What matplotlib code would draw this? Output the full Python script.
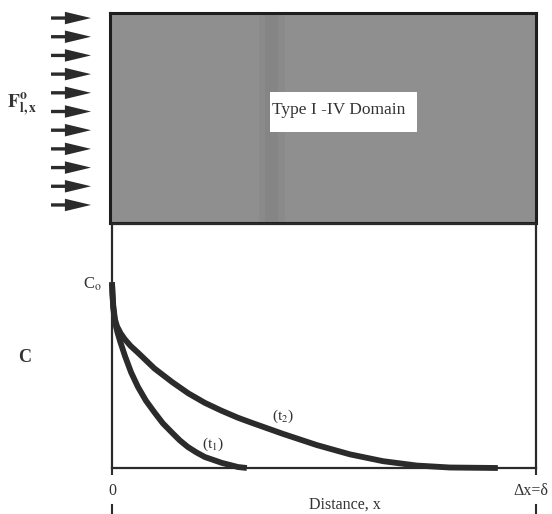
import numpy as np
import matplotlib
matplotlib.use('Agg')
import matplotlib.pyplot as plt
from matplotlib.transforms import ScaledTranslation

plt.rcParams['font.family'] = 'serif'
plt.rcParams['font.serif'] = ['Liberation Serif', 'DejaVu Serif']
plt.rcParams['mathtext.fontset'] = 'stix'

# --- DATA ---
# concentration profiles, x as fraction of delta, C on axis scale (top = 1)
t1_x = [0, 0.001, 0.003, 0.007, 0.013, 0.019, 0.031, 0.045, 0.061, 0.080, 0.101, 0.120, 0.142,
        0.160, 0.179, 0.199, 0.219, 0.259, 0.297, 0.318]
t1_c = [0.761, 0.715, 0.655, 0.597, 0.555, 0.520, 0.457, 0.392, 0.333, 0.276, 0.226, 0.183, 0.144,
        0.113, 0.086, 0.064, 0.045, 0.021, 0.004, 0.0]

t2_x = [0, 0.001, 0.003, 0.007, 0.012, 0.020, 0.030, 0.044, 0.061, 0.100, 0.142, 0.180, 0.219, 0.258,
        0.297, 0.330, 0.403, 0.483, 0.561, 0.639, 0.719, 0.797, 0.910]
t2_c = [0.761, 0.722, 0.665, 0.609, 0.580, 0.553, 0.528, 0.500, 0.473, 0.408, 0.352, 0.306, 0.267, 0.235,
        0.206, 0.185, 0.140, 0.094, 0.056, 0.028, 0.010, 0.002, 0.0]

curve_labels = [r'(t$_1$)', r'(t$_2$)']
x_ticks = [0, 1]
x_ticklabels = ['0', 'Δx=δ']
n_arrows = 11

ink = '#2b2b2b'

# --- FIGURE ---
fig = plt.figure(figsize=(5.52, 5.14), dpi=100)
ax_top = fig.add_axes([0.1993, 0.5661, 0.7717, 0.4086])
ax = fig.add_axes([0.2029, 0.0895, 0.7681, 0.4747])

# top: shaded domain box
ax_top.set_facecolor('#8f8f8f')
ax_top.axvspan(0.35, 0.41, color='#6e6e6e', alpha=0.15, lw=0)
ax_top.axvspan(0.365, 0.395, color='#6e6e6e', alpha=0.15, lw=0)
ax_top.set_xlim(0, 1)
ax_top.set_ylim(0, 1)
ax_top.set_xticks([])
ax_top.set_yticks([])
for s in ax_top.spines.values():
    s.set_linewidth(2.2)
    s.set_color('#1e1e1e')

ax_top.add_patch(plt.Rectangle((0.376, 0.433), 0.345, 0.19, transform=ax_top.transAxes,
                               facecolor='white', edgecolor='none'))
ax_top.text(0.381, 0.536, 'Type I -IV Domain', transform=ax_top.transAxes,
            ha='left', va='center', fontsize=12.5, color='#333333')

# flux arrows on the left
for y in np.linspace(0.976, 0.086, n_arrows):
    ax_top.annotate('', xy=(-0.0446, y), xytext=(-0.1385, y), xycoords='axes fraction',
                    annotation_clip=False,
                    arrowprops=dict(arrowstyle='simple,head_length=0.94,head_width=0.45,tail_width=0.12',
                                    mutation_scale=20, color=ink, shrinkA=0, shrinkB=0, lw=0))
ax_top.text(-0.207, 0.562, r'$\mathbf{F}_{\mathbf{l,x}}^{\mathbf{o}}$', transform=ax_top.transAxes,
            ha='center', va='center', fontsize=14, color='#333333')

# bottom: concentration profiles
for xs, cs in [(t1_x, t1_c), (t2_x, t2_c)]:
    ax.plot(xs, cs, color=ink, lw=4.2, clip_on=False, solid_capstyle='butt',
            solid_joinstyle='round')
ax.text(0.238, 0.095, curve_labels[0], fontsize=11, ha='center', va='center', color='#333333')
ax.text(0.403, 0.210, curve_labels[1], fontsize=11, ha='center', va='center', color='#333333')

ax.set_xlim(0, 1)
ax.set_ylim(0, 1)
ax.set_yticks([])
ax.set_xticks(x_ticks)
ax.set_xticklabels(x_ticklabels, fontsize=11.5, color='#333333')
ax.tick_params(axis='x', direction='out', length=5, width=1.5, color=ink, pad=6)
# keep the right tick label inside the figure
last = ax.get_xticklabels()[-1]
last.set_transform(last.get_transform() + ScaledTranslation(-4 / 72, 0, fig.dpi_scale_trans))
for s in ax.spines.values():
    s.set_linewidth(1.6)
    s.set_color(ink)

ax.set_xlabel('Distance, x', fontsize=11.5, color='#333333')
ax.xaxis.set_label_coords(0.55, -0.118)

# small marks under the tick labels
for xt in x_ticks:
    ax.plot([xt, xt], [-0.152, -0.186], color=ink, lw=1.5, clip_on=False)

ax.text(-0.024, 0.753, r'C$_\mathrm{o}$', transform=ax.transAxes, ha='right', va='center',
        fontsize=12, color='#333333')
ax.text(-0.205, 0.453, 'C', transform=ax.transAxes, ha='center', va='center',
        fontsize=13, fontweight='bold', color='#333333')

plt.savefig('out.png', dpi=100)
